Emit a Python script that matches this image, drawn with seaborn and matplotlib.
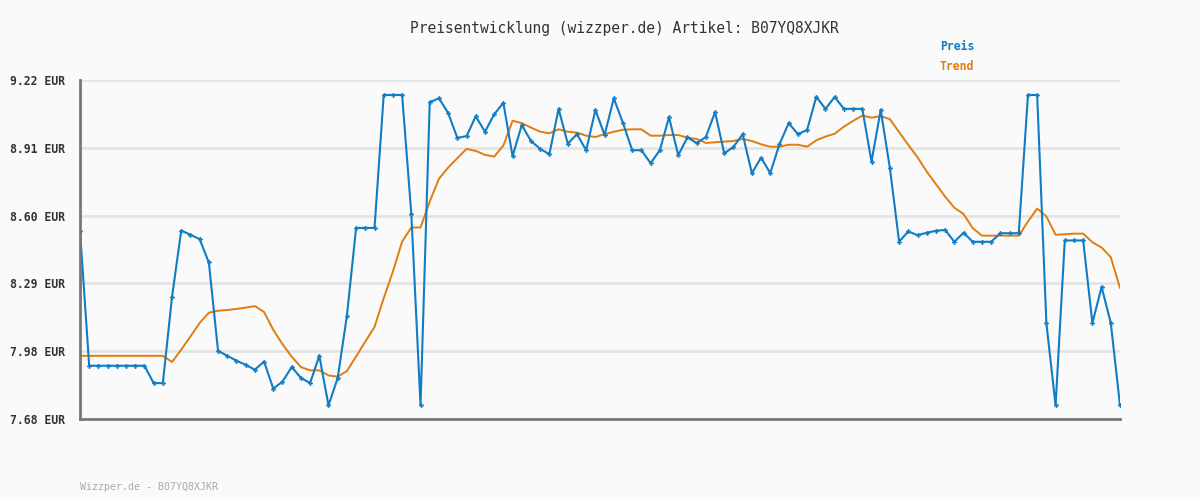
#import stuff
import matplotlib
matplotlib.use('Agg')
import matplotlib.pyplot as plt
import seaborn as sns
import numpy as np
import pandas as pd

#data
preis = [8.536, 7.922, 7.922, 7.922, 7.922, 7.922, 7.922, 7.922, 7.843, 7.843,
         8.235, 8.536, 8.517, 8.497, 8.391, 7.990, 7.967, 7.945, 7.926, 7.904,
         7.941, 7.818, 7.850, 7.916, 7.867, 7.843, 7.967, 7.742, 7.866, 8.149,
         8.548, 8.548, 8.548, 9.152, 9.152, 9.152, 8.611, 7.742, 9.119, 9.137,
         9.070, 8.957, 8.965, 9.055, 8.985, 9.064, 9.116, 8.874, 9.015, 8.943,
         8.907, 8.883, 9.089, 8.931, 8.974, 8.901, 9.084, 8.970, 9.137, 9.024,
         8.901, 8.901, 8.842, 8.901, 9.051, 8.878, 8.960, 8.933, 8.961, 9.074,
         8.887, 8.916, 8.974, 8.797, 8.867, 8.797, 8.928, 9.024, 8.974, 8.993,
         9.143, 9.089, 9.143, 9.089, 9.089, 9.089, 8.849, 9.084, 8.819, 8.486,
         8.532, 8.515, 8.526, 8.535, 8.539, 8.485, 8.526, 8.485, 8.485, 8.485,
         8.524, 8.524, 8.524, 9.152, 9.152, 8.116, 7.742, 8.491, 8.491, 8.491,
         8.116, 8.280, 8.116, 7.742]

trend = [7.967, 7.967, 7.967, 7.967, 7.967, 7.967, 7.967, 7.967, 7.967, 7.967,
         7.939, 7.995, 8.055, 8.116, 8.163, 8.172, 8.175, 8.180, 8.186, 8.193,
         8.166, 8.085, 8.020, 7.963, 7.916, 7.901, 7.901, 7.878, 7.872, 7.898,
         7.964, 8.032, 8.098, 8.229, 8.350, 8.486, 8.550, 8.550, 8.668, 8.771,
         8.822, 8.865, 8.907, 8.898, 8.880, 8.872, 8.922, 9.035, 9.024, 9.004,
         8.985, 8.978, 8.996, 8.985, 8.981, 8.967, 8.961, 8.974, 8.985, 8.994,
         8.996, 8.996, 8.967, 8.967, 8.970, 8.970, 8.958, 8.952, 8.934, 8.937,
         8.940, 8.943, 8.952, 8.943, 8.928, 8.917, 8.917, 8.926, 8.926, 8.917,
         8.946, 8.963, 8.976, 9.008, 9.034, 9.058, 9.049, 9.056, 9.042, 8.983,
         8.925, 8.869, 8.804, 8.747, 8.690, 8.640, 8.611, 8.547, 8.513, 8.513,
         8.513, 8.513, 8.513, 8.577, 8.636, 8.600, 8.517, 8.519, 8.522, 8.522,
         8.483, 8.459, 8.415, 8.275]

y_ticks = [7.68, 7.988, 8.296, 8.604, 8.912, 9.22]
y_labels = ['7.68 EUR', '7.98 EUR', '8.29 EUR', '8.60 EUR', '8.91 EUR', '9.22 EUR']
artikel = 'B07YQ8XJKR'

df = pd.DataFrame({'idx': np.arange(len(preis)), 'preis': preis, 'trend': trend})

blue = '#0f7cc4'
orange = '#e07c10'
bg = '#fafafa'

sns.set_style('white')
plt.rcParams['font.family'] = ['DejaVu Sans Mono', 'DejaVu Sans']

fig = plt.figure(figsize=(12, 5), dpi=100, facecolor=bg)
ax = fig.add_axes([80/1200, 1-419/500, 1040/1200, 339/500], facecolor=bg)

#grid first so lines sit on top
for t in y_ticks:
    ax.axhline(t, color='#e4e4e4', lw=2, zorder=0)

sns.lineplot(data=df, x='idx', y='trend', color=orange, lw=1.4, ax=ax, zorder=2)
sns.lineplot(data=df, x='idx', y='preis', color=blue, lw=1.5, marker='P',
             markersize=3.5, markeredgewidth=0, markerfacecolor=blue, ax=ax, zorder=3)

ax.set_xlim(0, len(preis) - 1)
ax.set_ylim(7.68, 9.22)
ax.set_xticks([])
ax.set_yticks(y_ticks)
ax.set_yticklabels(y_labels, fontsize=8.3, fontweight='bold', color='#333333')
ax.tick_params(axis='y', length=0, pad=11)
ax.set_xlabel('')
ax.set_ylabel('')

for s in ['top', 'right']:
    ax.spines[s].set_visible(False)
for s in ['left', 'bottom']:
    ax.spines[s].set_color('#777777')
    ax.spines[s].set_linewidth(2)
    ax.spines[s].set_zorder(4)

#title, legend, footer
fig.text(624/1200, 1-28/500, 'Preisentwicklung (wizzper.de) Artikel: ' + artikel,
         ha='center', va='center', fontsize=10.5, color='#333333')
fig.text(940/1200, 1-47/500, 'Preis', ha='left', va='center', fontsize=8.3,
         fontweight='bold', color=blue)
fig.text(940/1200, 1-67/500, 'Trend', ha='left', va='center', fontsize=8.3,
         fontweight='bold', color=orange)
fig.text(80/1200, 1-487/500, 'Wizzper.de - ' + artikel, ha='left', va='center',
         fontsize=7.2, color='#aaaaaa')

fig.savefig('out.png', dpi=100, facecolor=bg)
